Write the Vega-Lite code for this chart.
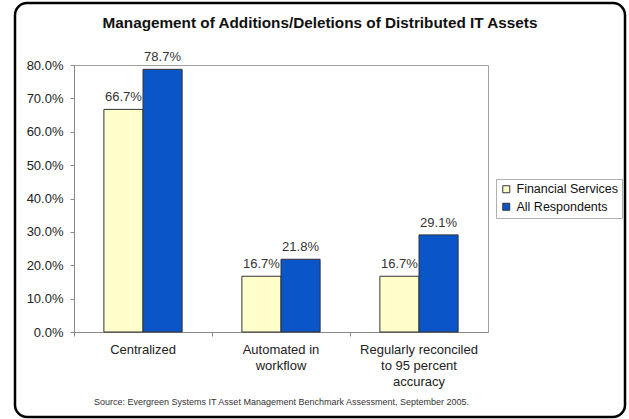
{
  "$schema": "https://vega.github.io/schema/vega-lite/v6.json",
  "width": 414,
  "height": 267,
  "autosize": {"type": "none"},
  "padding": {"left": 74, "top": 65, "right": 141, "bottom": 87},
  "background": "white",
  "title": {
    "text": "Management of Additions/Deletions of Distributed IT Assets",
    "fontSize": 15.3,
    "fontWeight": "bold",
    "color": "#111",
    "frame": "group",
    "anchor": "middle",
    "baseline": "alphabetic",
    "offset": -42,
    "dx": 39
  },
  "config": {
    "font": "Liberation Sans",
    "view": {"stroke": "#a0a0a0", "strokeWidth": 1}
  },
  "layer": [
    {
      "data": {
        "values": [
          {"category": "Centralized", "group": "Financial Services", "share": 0.667},
          {"category": "Centralized", "group": "All Respondents", "share": 0.787},
          {"category": "Automated in|workflow", "group": "Financial Services", "share": 0.167},
          {"category": "Automated in|workflow", "group": "All Respondents", "share": 0.218},
          {"category": "Regularly reconciled|to 95 percent|accuracy", "group": "Financial Services", "share": 0.167},
          {"category": "Regularly reconciled|to 95 percent|accuracy", "group": "All Respondents", "share": 0.291}
        ]
      },
      "encoding": {
        "x": {
          "field": "category",
          "type": "nominal",
          "sort": null,
          "scale": {"paddingInner": 0.433, "paddingOuter": 0.2165},
          "axis": {
            "title": "Source:  Evergreen Systems IT Asset Management Benchmark Assessment, September 2005.",
            "titleFontSize": 9,
            "titleFontWeight": "normal",
            "titleColor": "#333",
            "titlePadding": 9,
            "labelExpr": "split(datum.label, '|')",
            "labelAngle": 0,
            "labelFontSize": 13,
            "labelColor": "#222",
            "labelLineHeight": 16,
            "labelPadding": 7,
            "bandPosition": -0.3818,
            "tickSize": 4,
            "tickColor": "#888",
            "domainColor": "#888"
          }
        },
        "xOffset": {
          "field": "group",
          "type": "nominal",
          "sort": ["Financial Services", "All Respondents"]
        },
        "y": {
          "field": "share",
          "type": "quantitative",
          "scale": {"domain": [0, 0.8], "nice": false},
          "axis": {
            "title": null,
            "format": ".1%",
            "values": [0, 0.1, 0.2, 0.3, 0.4, 0.5, 0.6, 0.7, 0.8],
            "grid": false,
            "labelFontSize": 13,
            "labelColor": "#222",
            "labelPadding": 7,
            "tickSize": 4,
            "tickColor": "#888",
            "domainColor": "#888"
          }
        }
      },
      "layer": [
        {
          "mark": {"type": "bar", "stroke": "#333", "strokeWidth": 1},
          "encoding": {
            "color": {
              "field": "group",
              "type": "nominal",
              "sort": ["Financial Services", "All Respondents"],
              "scale": {
                "domain": ["Financial Services", "All Respondents"],
                "range": ["#ffffcc", "#0a55c8"]
              },
              "legend": {
                "title": null,
                "orient": "none",
                "legendX": 422,
                "legendY": 114,
                "symbolType": "square",
                "symbolSize": 49,
                "symbolStrokeColor": "#333",
                "symbolStrokeWidth": 1,
                "labelFontSize": 12.5,
                "labelColor": "#111",
                "labelOffset": 4,
                "rowPadding": 4.5,
                "padding": 4,
                "strokeColor": "#b0b0b0",
                "fillColor": "white"
              }
            }
          }
        },
        {
          "mark": {"type": "text", "baseline": "alphabetic", "dy": -8, "fontSize": 13, "color": "#333"},
          "encoding": {
            "text": {"field": "share", "type": "quantitative", "format": ".1%"}
          }
        }
      ]
    },
    {
      "data": {"values": [{}]},
      "mark": {
        "type": "rect",
        "x": -59,
        "x2": 551,
        "y": -62,
        "y2": 352,
        "fill": "transparent",
        "stroke": "black",
        "strokeWidth": 2.5,
        "cornerRadius": 12
      },
      "encoding": {}
    }
  ]
}
